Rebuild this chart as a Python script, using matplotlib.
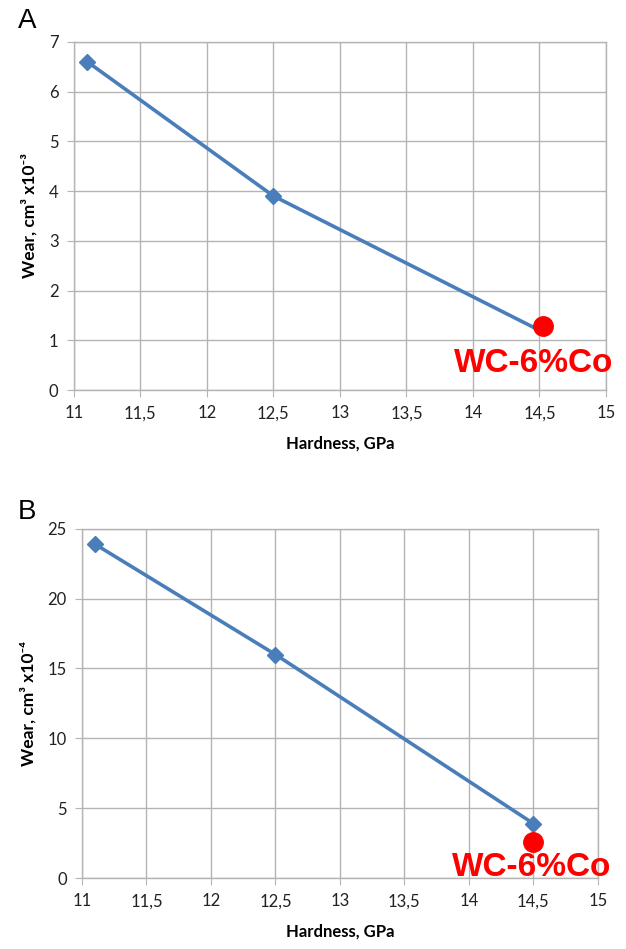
import matplotlib.pyplot as plt
from matplotlib.ticker import FuncFormatter

# data
hardness = [11.1, 12.5, 14.5]
wear_a = [6.6, 3.9, 1.2]        # cm3 x10^-3
wear_b = [23.9, 16.0, 3.9]      # cm3 x10^-4
wc_hardness_a = 14.53
wc_wear_a = 1.28
wc_hardness_b = 14.5
wc_wear_b = 2.6
x_ticks = [11, 11.5, 12, 12.5, 13, 13.5, 14, 14.5, 15]
y_ticks_a = [0, 1, 2, 3, 4, 5, 6, 7]
y_ticks_b = [0, 5, 10, 15, 20, 25]

blue = '#4a7ebb'
red = '#ff0000'
grid_grey = '#b4b4b4'

plt.rcParams['font.family'] = ['Lato', 'DejaVu Sans']

fig = plt.figure(figsize=(6.26, 9.49), dpi=100)


def comma(v, pos):
    s = f'{v:g}'
    return s.replace('.', ',')


def style_axes(ax, yticks, ylabel):
    ax.set_xlim(11, 15)
    ax.set_ylim(yticks[0], yticks[-1])
    ax.set_xticks(x_ticks)
    ax.set_yticks(yticks)
    ax.xaxis.set_major_formatter(FuncFormatter(comma))
    ax.grid(True, color=grid_grey, linewidth=1.0)
    ax.set_axisbelow(True)
    for side in ['left', 'bottom', 'top', 'right']:
        ax.spines[side].set_color(grid_grey)
        ax.spines[side].set_linewidth(1.0)
    ax.tick_params(axis='both', direction='out', length=5, color=grid_grey,
                   labelsize=12, labelcolor='#222222', pad=6)
    ax.set_xlabel('Hardness, GPa', fontsize=12, fontweight='bold', labelpad=10)
    ax.set_ylabel(ylabel, fontsize=12.5, fontweight='bold', labelpad=8)


# panel A
ax1 = fig.add_axes([0.118, 0.589, 0.850, 0.367])
ax1.plot(hardness, wear_a, color=blue, linewidth=2.6, marker='D',
         markersize=8, markevery=[0, 1])
ax1.plot([wc_hardness_a], [wc_wear_a], 'o', color=red, markersize=14, zorder=5)
ax1.text(14.46, 0.54, 'WC-6%Co', color=red, fontsize=24, fontweight='bold',
         family='Liberation Sans', ha='center', va='center', zorder=6)
style_axes(ax1, y_ticks_a, 'Wear, cm³ x10⁻³')
fig.text(0.043, 0.978, 'A', fontsize=20, family='Liberation Sans',
         ha='center', va='center')

# panel B
ax2 = fig.add_axes([0.131, 0.0748, 0.824, 0.368])
ax2.plot(hardness, wear_b, color=blue, linewidth=2.6, marker='D', markersize=8)
ax2.plot([wc_hardness_b], [wc_wear_b], 'o', color=red, markersize=14, zorder=5)
ax2.text(14.49, 0.72, 'WC-6%Co', color=red, fontsize=24, fontweight='bold',
         family='Liberation Sans', ha='center', va='center', zorder=6)
style_axes(ax2, y_ticks_b, 'Wear, cm³ x10⁻⁴')
fig.text(0.043, 0.461, 'B', fontsize=20, family='Liberation Sans',
         ha='center', va='center')

fig.savefig('out.png', dpi=100, facecolor='white')
